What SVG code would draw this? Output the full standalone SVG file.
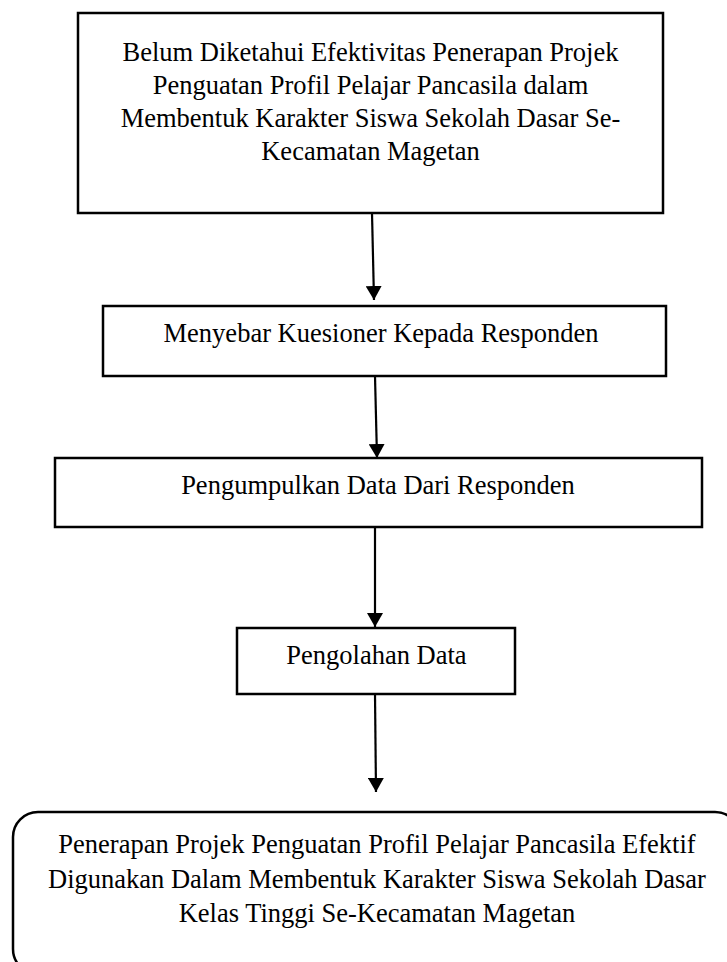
<svg xmlns="http://www.w3.org/2000/svg" width="727" height="962" viewBox="0 0 727 962">
<style>
.box{fill:#fff;stroke:#000;stroke-width:2.5}
.t{font-family:"Liberation Serif","Times New Roman",serif;font-size:26.5px;fill:#000;text-anchor:middle}
.c{stroke:#000;stroke-width:2.2;fill:none}
</style>
<defs>
<marker id="ah" viewBox="0 0 14 16" refX="14" refY="8" markerWidth="14" markerHeight="16" markerUnits="userSpaceOnUse" orient="auto">
<path d="M0,0 L14,8 L0,16 z" fill="#000"/>
</marker>
</defs>
<rect width="727" height="962" fill="#fff"/>
<g id="connectors">
<line class="c" x1="372" y1="213" x2="374" y2="300" marker-end="url(#ah)"/>
<line class="c" x1="375" y1="376" x2="377" y2="458" marker-end="url(#ah)"/>
<line class="c" x1="375" y1="527" x2="375" y2="627" marker-end="url(#ah)"/>
<line class="c" x1="375" y1="694" x2="376" y2="792" marker-end="url(#ah)"/>
</g>
<g id="n1">
<rect class="box" x="78" y="13" width="585" height="200"/>
<text class="t" x="370.5" y="61">Belum Diketahui Efektivitas Penerapan Projek</text>
<text class="t" x="370.5" y="94">Penguatan Profil Pelajar Pancasila dalam</text>
<text class="t" x="370.5" y="127">Membentuk Karakter Siswa Sekolah Dasar Se-</text>
<text class="t" x="370.5" y="160">Kecamatan Magetan</text>
</g>
<g id="n2">
<rect class="box" x="103" y="306" width="563" height="70"/>
<text class="t" x="381" y="342">Menyebar Kuesioner Kepada Responden</text>
</g>
<g id="n3">
<rect class="box" x="55" y="458" width="647" height="69"/>
<text class="t" x="378" y="494">Pengumpulkan Data Dari Responden</text>
</g>
<g id="n4">
<rect class="box" x="237" y="628" width="278" height="66"/>
<text class="t" x="376.5" y="664">Pengolahan Data</text>
</g>
<g id="n5">
<rect class="box" x="13" y="812" width="727" height="162" rx="25" ry="25"/>
<text class="t" x="377" y="853">Penerapan Projek Penguatan Profil Pelajar Pancasila Efektif</text>
<text class="t" x="377" y="888">Digunakan Dalam Membentuk Karakter Siswa Sekolah Dasar</text>
<text class="t" x="377" y="922">Kelas Tinggi Se-Kecamatan Magetan</text>
</g>
</svg>
